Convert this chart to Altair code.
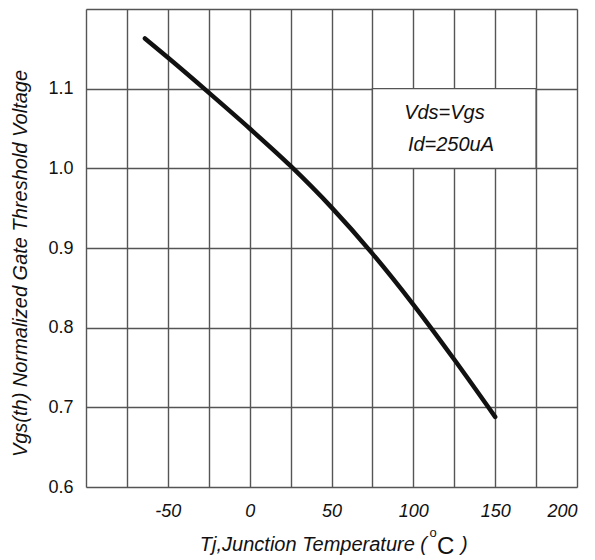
import altair as alt
import pandas as pd

# Curve
temp = [-64, -50, -25, 0, 25, 50, 75, 100, 125, 150]
vgs = [1.163, 1.139, 1.095, 1.050, 1.003, 0.951, 0.893, 0.829, 0.760, 0.688]

x_grid = [-100, -75, -50, -25, 0, 25, 50, 75, 100, 125, 150, 175, 200]
y_grid = [0.6, 0.65, 0.7, 0.75, 0.8, 0.85, 0.9, 0.95, 1.0, 1.05, 1.1, 1.15, 1.2]

box_x = [75]
box_x2 = [175]
box_y = [1.0]
box_y2 = [1.1]

note_text = ["Vds=Vgs", "Id=250uA"]
note_x = [119, 123]
note_y = [1.070, 1.029]

x_title_main = "Tj,Junction Temperature ("
x_title_deg = "o"
x_title_unit = "C"
x_title_close = ")"

df = pd.DataFrame({"t": temp, "v": vgs})
box_df = pd.DataFrame({"x": box_x, "x2": box_x2, "y": box_y, "y2": box_y2})
note_df = pd.DataFrame({"text": note_text, "x": note_x, "y": note_y})
one = pd.DataFrame({"k": [0]})

FONT = "Liberation Sans"
INK = "#111111"
xs = alt.Scale(domain=[-100, 200], nice=False, zero=False)
ys = alt.Scale(domain=[0.6, 1.2], nice=False, zero=False)

x_axis = alt.Axis(
    values=x_grid,
    labelExpr="(datum.value % 50 == 0 && datum.value > -100) ? ('' + datum.value) : ''",
    grid=True, gridColor="#555555", gridWidth=1.4, gridOpacity=1,
    ticks=False, domain=False,
    labelFont=FONT, labelFontSize=18, labelFontStyle="italic", labelColor=INK,
    labelPadding=15, labelOverlap=False,
    title=None,
)
y_axis = alt.Axis(
    values=y_grid,
    labelExpr="(abs(datum.value*10 - round(datum.value*10)) < 0.01 && datum.value < 1.15) ? format(datum.value, '.1f') : ''",
    grid=True, gridColor="#555555", gridWidth=1.4, gridOpacity=1,
    ticks=False, domain=False,
    labelFont=FONT, labelFontSize=18, labelColor=INK,
    labelPadding=13, labelOverlap=False,
    title="Vgs(th) Normalized Gate Threshold Voltage",
    titleFont=FONT, titleFontSize=20, titleFontStyle="italic", titleFontWeight="normal",
    titleColor=INK, titleX=-66, titleY=254, titleAngle=270,
    titleBaseline="middle", titleAlign="center",
)

line = alt.Chart(df).mark_line(
    color=INK, strokeWidth=4.5, interpolate="monotone", strokeCap="round"
).encode(
    x=alt.X("t:Q", scale=xs, axis=x_axis),
    y=alt.Y("v:Q", scale=ys, axis=y_axis),
)

box = alt.Chart(box_df).mark_rect(fill="white", stroke="#555555", strokeWidth=1.4).encode(
    x=alt.X("x:Q", scale=xs), x2="x2:Q",
    y=alt.Y("y:Q", scale=ys), y2="y2:Q",
)

notes = alt.Chart(note_df).mark_text(
    font=FONT, fontSize=20, fontStyle="italic", color=INK, align="center", baseline="middle"
).encode(
    x=alt.X("x:Q", scale=xs), y=alt.Y("y:Q", scale=ys), text="text:N"
)

# x-axis title, built from parts so that the unit "C" can be larger
t_main = alt.Chart(one).mark_text(
    text=x_title_main, font=FONT, fontSize=20, fontStyle="italic", color=INK,
    align="right", baseline="alphabetic"
).encode(x=alt.value(341), y=alt.value(542))
t_deg = alt.Chart(one).mark_text(
    text=x_title_deg, font=FONT, fontSize=13, color=INK, align="center", baseline="alphabetic"
).encode(x=alt.value(347), y=alt.value(528))
t_unit = alt.Chart(one).mark_text(
    text=x_title_unit, font=FONT, fontSize=24, color=INK, align="left", baseline="alphabetic"
).encode(x=alt.value(351), y=alt.value(545))
t_close = alt.Chart(one).mark_text(
    text=x_title_close, font=FONT, fontSize=20, fontStyle="italic", color=INK,
    align="left", baseline="alphabetic"
).encode(x=alt.value(375), y=alt.value(542))

chart = alt.layer(box, notes, line, t_main, t_deg, t_unit, t_close).properties(
    width=491, height=478,
    autosize=alt.AutoSizeParams(type="none"),
    padding={"left": 78, "top": 1, "right": 10, "bottom": 73},
).configure_view(
    stroke=INK, strokeWidth=2.5
).configure(background="white")

chart.save("out.html", embed_options={"renderer": "svg", "actions": False})
